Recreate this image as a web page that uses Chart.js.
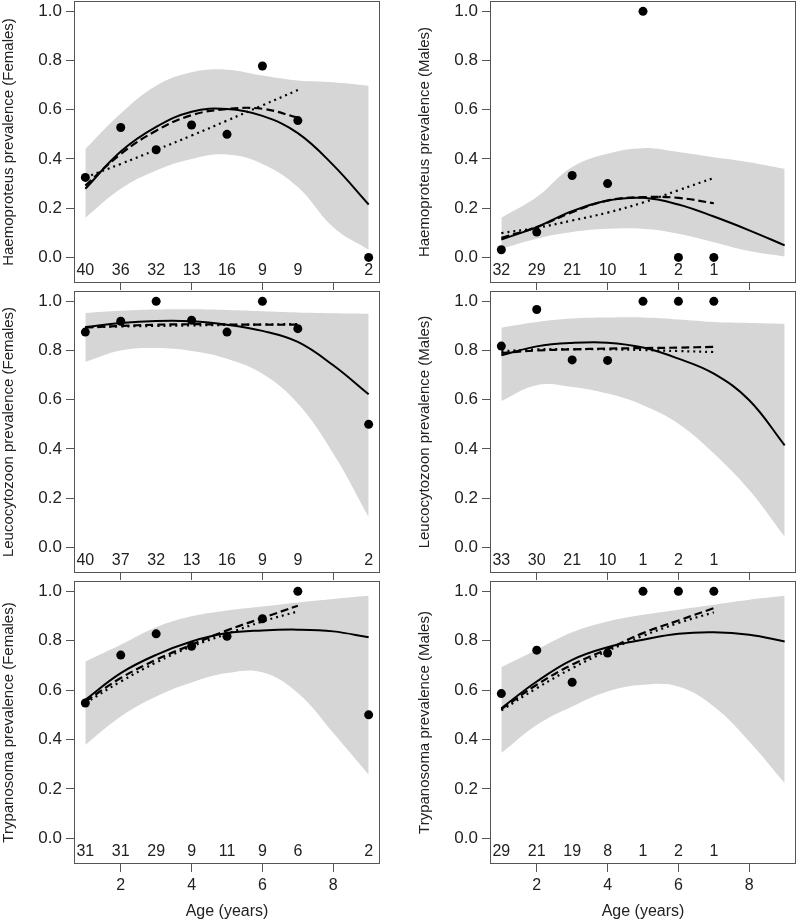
<!DOCTYPE html>
<html>
<head>
<meta charset="utf-8">
<script src="https://cdn.jsdelivr.net/npm/chart.js@4/dist/chart.umd.min.js"></script>
<style>
  body { margin: 0; background: #fff; }
  #wrap { position: relative; width: 797px; height: 921px; }
  canvas { position: absolute; }
</style>
</head>
<body>
<div id="wrap">
  <canvas id="c1" width="397" height="290" style="left:0;top:0"></canvas>
  <canvas id="c2" width="400" height="290" style="left:397px;top:0"></canvas>
  <canvas id="c3" width="397" height="290" style="left:0;top:290px"></canvas>
  <canvas id="c4" width="400" height="290" style="left:397px;top:290px"></canvas>
  <canvas id="c5" width="397" height="341" style="left:0;top:580px"></canvas>
  <canvas id="c6" width="400" height="341" style="left:397px;top:580px"></canvas>
</div>
<script>
// ages for fitted curves
const curveAges = [1, 2, 3, 4, 5, 6, 7, 8, 9];
const shortAges = [1, 2, 3, 4, 5, 6, 7];
const xTicks = [2, 4, 6, 8];
const yTicks = [0, 0.2, 0.4, 0.6, 0.8, 1.0];

// Haemoproteus, females
const haemoF_age = [1, 2, 3, 4, 5, 6, 7, 9];
const haemoF_prev = [0.325, 0.528, 0.4375, 0.538, 0.5, 0.778, 0.556, 0];
const haemoF_n = [40, 36, 32, 13, 16, 9, 9, 2];
const haemoF_lo = [0.161, 0.279, 0.353, 0.400, 0.418, 0.380, 0.286, 0.123, 0.031];
const haemoF_hi = [0.441, 0.585, 0.698, 0.752, 0.763, 0.739, 0.719, 0.712, 0.698];
const haemoF_quad = [0.279, 0.430, 0.530, 0.592, 0.603, 0.575, 0.505, 0.375, 0.215];
const haemoF_dash = [0.292, 0.420, 0.515, 0.578, 0.603, 0.604, 0.568];
const haemoF_dot = [0.325, 0.380, 0.437, 0.495, 0.556, 0.618, 0.680];

// Haemoproteus, males
const haemoM_age = [1, 2, 3, 4, 5, 6, 7];
const haemoM_prev = [0.031, 0.103, 0.333, 0.3, 1, 0, 0];
const haemoM_n = [32, 29, 21, 10, 1, 2, 1];
const haemoM_lo = [0.035, 0.076, 0.103, 0.116, 0.116, 0.096, 0.062, 0.026, 0.004];
const haemoM_hi = [0.161, 0.245, 0.367, 0.421, 0.444, 0.428, 0.407, 0.387, 0.360];
const haemoM_quad = [0.073, 0.123, 0.188, 0.231, 0.242, 0.215, 0.166, 0.110, 0.049];
const haemoM_dash = [0.080, 0.123, 0.184, 0.231, 0.245, 0.242, 0.220];
const haemoM_dot = [0.099, 0.120, 0.150, 0.182, 0.223, 0.273, 0.323];

// Leucocytozoon, females
const leucoF_age = [1, 2, 3, 4, 5, 6, 7, 9];
const leucoF_prev = [0.875, 0.919, 1, 0.923, 0.875, 1, 0.889, 0.5];
const leucoF_n = [40, 37, 32, 13, 16, 9, 9, 2];
const leucoF_lo = [0.754, 0.800, 0.810, 0.798, 0.767, 0.706, 0.585, 0.382, 0.124];
const leucoF_hi = [0.953, 0.962, 0.967, 0.968, 0.965, 0.960, 0.955, 0.952, 0.950];
const leucoF_quad = [0.896, 0.912, 0.920, 0.919, 0.905, 0.880, 0.835, 0.740, 0.622];
const leucoF_dash = [0.893, 0.900, 0.905, 0.907, 0.906, 0.905, 0.905];
const leucoF_dot = [0.895, 0.898, 0.900, 0.902, 0.904, 0.906, 0.908];

// Leucocytozoon, males
const leucoM_age = [1, 2, 3, 4, 5, 6, 7];
const leucoM_prev = [0.818, 0.967, 0.762, 0.76, 1, 1, 1];
const leucoM_n = [33, 30, 21, 10, 1, 2, 1];
const leucoM_lo = [0.595, 0.659, 0.652, 0.625, 0.578, 0.503, 0.382, 0.233, 0.043];
const leucoM_hi = [0.893, 0.916, 0.930, 0.934, 0.934, 0.926, 0.916, 0.912, 0.909];
const leucoM_quad = [0.781, 0.817, 0.831, 0.832, 0.812, 0.767, 0.706, 0.598, 0.415];
const leucoM_dash = [0.790, 0.800, 0.805, 0.808, 0.810, 0.812, 0.815];
const leucoM_dot = [0.797, 0.805, 0.806, 0.805, 0.802, 0.798, 0.794];

// Trypanosoma, females
const trypF_age = [1, 2, 3, 4, 5, 6, 7, 9];
const trypF_prev = [0.548, 0.742, 0.828, 0.778, 0.818, 0.889, 1, 0.5];
const trypF_n = [31, 31, 29, 9, 11, 9, 6, 2];
const trypF_lo = [0.378, 0.493, 0.574, 0.631, 0.669, 0.672, 0.588, 0.426, 0.257];
const trypF_hi = [0.716, 0.784, 0.855, 0.899, 0.923, 0.939, 0.955, 0.969, 0.982];
const trypF_quad = [0.561, 0.669, 0.743, 0.797, 0.831, 0.842, 0.845, 0.838, 0.814];
const trypF_dash = [0.554, 0.649, 0.723, 0.784, 0.842, 0.892, 0.942];
const trypF_dot = [0.547, 0.635, 0.712, 0.777, 0.828, 0.878, 0.919];

// Trypanosoma, males
const trypM_age = [1, 2, 3, 4, 5, 6, 7];
const trypM_prev = [0.586, 0.762, 0.632, 0.75, 1, 1, 1];
const trypM_n = [29, 21, 19, 8, 1, 2, 1];
const trypM_lo = [0.345, 0.459, 0.534, 0.595, 0.622, 0.615, 0.534, 0.392, 0.223];
const trypM_hi = [0.693, 0.764, 0.834, 0.878, 0.905, 0.926, 0.946, 0.966, 0.982];
const trypM_quad = [0.527, 0.635, 0.723, 0.774, 0.804, 0.828, 0.834, 0.824, 0.797];
const trypM_dash = [0.523, 0.622, 0.703, 0.766, 0.831, 0.882, 0.932];
const trypM_dot = [0.518, 0.608, 0.689, 0.759, 0.820, 0.872, 0.915];

const FONT = '"Liberation Sans", Arial, sans-serif';
const TEXT = '#222';
const AXIS = '#555';

function pts(xs, ys) {
  return ys.map((v, i) => ({ x: xs[i], y: v }));
}

// box round the plot and the sample sizes along the bottom
const boxAndCounts = {
  id: 'boxAndCounts',
  afterDatasetsDraw(chart, args, opts) {
    const { ctx, chartArea: a, scales: { x, y } } = chart;
    ctx.save();
    ctx.strokeStyle = AXIS;
    ctx.lineWidth = 1;
    ctx.strokeRect(a.left + 0.5, a.top + 0.5, a.width - 1, a.height - 1);
    ctx.fillStyle = TEXT;
    ctx.font = '16px ' + FONT;
    ctx.textAlign = 'center';
    ctx.textBaseline = 'middle';
    opts.ages.forEach((age, i) => {
      ctx.fillText(String(opts.n[i]), x.getPixelForValue(age), y.getPixelForValue(-0.055));
    });
    ctx.restore();
  }
};

function makePanel(id, p) {
  const right = p.col === 'right';
  const bottom = p.row === 3;
  return new Chart(document.getElementById(id), {
    type: 'line',
    data: {
      datasets: [
        { data: pts(p.age, p.prev), showLine: false, pointRadius: 4.5, pointBorderWidth: 0,
          pointBackgroundColor: '#000' },
        { data: pts(curveAges, p.quad), borderColor: '#000', borderWidth: 2, pointRadius: 0, tension: 0.4 },
        { data: pts(shortAges, p.dash), borderColor: '#000', borderWidth: 2.2, pointRadius: 0, tension: 0.4,
          borderDash: [8, 4] },
        { data: pts(shortAges, p.dot), borderColor: '#000', borderWidth: 2.2, pointRadius: 0, tension: 0.4,
          borderDash: [2, 4] },
        { data: pts(curveAges, p.hi), borderWidth: 0, pointRadius: 0, tension: 0.4,
          backgroundColor: '#d6d6d6', fill: '+1' },
        { data: pts(curveAges, p.lo), borderWidth: 0, pointRadius: 0, tension: 0.4, fill: false }
      ]
    },
    options: {
      responsive: false,
      animation: false,
      layout: { autoPadding: false, padding: { top: 1, left: 0, bottom: 0, right: right ? 1 : 17 } },
      plugins: {
        legend: { display: false },
        tooltip: { enabled: false },
        boxAndCounts: { ages: p.age, n: p.n }
      },
      scales: {
        x: {
          type: 'linear', min: 0.68, max: 9.32,
          afterBuildTicks: s => { s.ticks = xTicks.map(v => ({ value: v })); },
          afterFit: s => { s.height = bottom ? 57 : 7; s.paddingLeft = 0; s.paddingRight = 0; },
          grid: { drawOnChartArea: false, drawTicks: true, tickLength: 8, color: AXIS },
          border: { display: false },
          ticks: { display: bottom, padding: 4, color: TEXT, font: { family: FONT, size: 16 } },
          title: { display: bottom, text: 'Age (years)', color: TEXT, padding: 0,
            font: { family: FONT, size: 16 } }
        },
        y: {
          type: 'linear', min: -0.104, max: 1.042,
          afterBuildTicks: s => { s.ticks = yTicks.map(v => ({ value: v })); },
          afterFit: s => { s.width = right ? 93 : 74; s.paddingTop = 0; s.paddingBottom = 0; },
          grid: { drawOnChartArea: false, drawTicks: true, tickLength: 8, color: AXIS },
          border: { display: false },
          ticks: { padding: 4, color: TEXT, font: { family: FONT, size: 17 },
            callback: v => v.toFixed(1) },
          title: { display: true, text: p.title, color: TEXT,
            padding: { top: right ? 19 : 0, bottom: 0 }, font: { family: FONT, size: 15 } }
        }
      }
    },
    plugins: [boxAndCounts]
  });
}

makePanel('c1', { col: 'left', row: 1, title: 'Haemoproteus prevalence (Females)',
  age: haemoF_age, prev: haemoF_prev, n: haemoF_n, lo: haemoF_lo, hi: haemoF_hi,
  quad: haemoF_quad, dash: haemoF_dash, dot: haemoF_dot });
makePanel('c2', { col: 'right', row: 1, title: 'Haemoproteus prevalence (Males)',
  age: haemoM_age, prev: haemoM_prev, n: haemoM_n, lo: haemoM_lo, hi: haemoM_hi,
  quad: haemoM_quad, dash: haemoM_dash, dot: haemoM_dot });
makePanel('c3', { col: 'left', row: 2, title: 'Leucocytozoon prevalence (Females)',
  age: leucoF_age, prev: leucoF_prev, n: leucoF_n, lo: leucoF_lo, hi: leucoF_hi,
  quad: leucoF_quad, dash: leucoF_dash, dot: leucoF_dot });
makePanel('c4', { col: 'right', row: 2, title: 'Leucocytozoon prevalence (Males)',
  age: leucoM_age, prev: leucoM_prev, n: leucoM_n, lo: leucoM_lo, hi: leucoM_hi,
  quad: leucoM_quad, dash: leucoM_dash, dot: leucoM_dot });
makePanel('c5', { col: 'left', row: 3, title: 'Trypanosoma prevalence (Females)',
  age: trypF_age, prev: trypF_prev, n: trypF_n, lo: trypF_lo, hi: trypF_hi,
  quad: trypF_quad, dash: trypF_dash, dot: trypF_dot });
makePanel('c6', { col: 'right', row: 3, title: 'Trypanosoma prevalence (Males)',
  age: trypM_age, prev: trypM_prev, n: trypM_n, lo: trypM_lo, hi: trypM_hi,
  quad: trypM_quad, dash: trypM_dash, dot: trypM_dot });
</script>
</body>
</html>
